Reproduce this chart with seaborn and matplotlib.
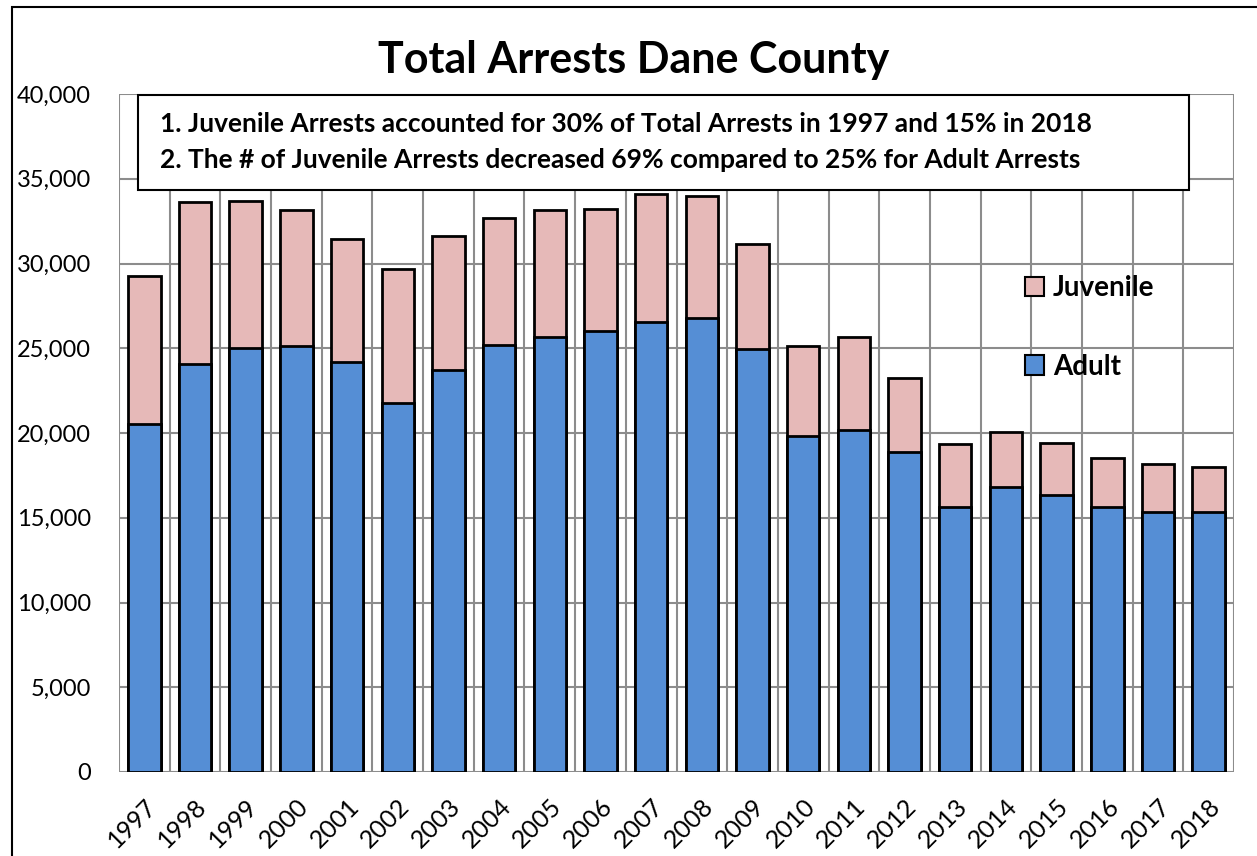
import matplotlib
matplotlib.use("Agg")
import matplotlib.pyplot as plt
import matplotlib.transforms as mtransforms
import seaborn as sns
import pandas as pd
import numpy as np
from matplotlib.patches import Patch, Rectangle

years = [str(y) for y in range(1997, 2019)]
adult = [20510, 24080, 25020, 25140, 24190, 21750, 23690, 25190, 25660, 26000, 26550,
         26810, 24980, 19820, 20190, 18850, 15660, 16820, 16370, 15630, 15310, 15310]
juvenile = [8730, 9550, 8670, 8000, 7280, 7910, 7940, 7480, 7520, 7190, 7570,
            7150, 6160, 5300, 5460, 4410, 3710, 3260, 3060, 2880, 2880, 2710]

title = "Total Arrests Dane County"
note_lines = ["1. Juvenile Arrests accounted for 30% of Total Arrests in 1997 and 15% in 2018",
              "2. The # of Juvenile Arrests decreased 69% compared to 25% for Adult Arrests"]

ADULT_C = "#558ED5"
JUV_C = "#E6B9B8"
GRID_C = "#8C8C8C"

sns.set_theme(style="white")
plt.rcParams['font.family'] = ['Lato', 'DejaVu Sans']
plt.rcParams['text.color'] = 'black'
plt.rcParams['xtick.color'] = 'black'
plt.rcParams['ytick.color'] = 'black'

df = pd.DataFrame({"year": years, "adult": adult, "juvenile": juvenile})
df["total"] = df["adult"] + df["juvenile"]

fig = plt.figure(figsize=(12.57, 8.56), dpi=100)
ax = fig.add_axes([119/1257, 1 - 772/856, (1234 - 119)/1257, (772 - 94)/856])

sns.barplot(data=df, x="year", y="total", color=JUV_C, saturation=1, width=0.64,
            edgecolor="black", linewidth=2, ax=ax, zorder=3)
sns.barplot(data=df, x="year", y="adult", color=ADULT_C, saturation=1, width=0.64,
            edgecolor="black", linewidth=2, ax=ax, zorder=4)

ax.set_ylim(0, 40000)
ax.set_xlim(-0.5, len(years) - 0.5)
ax.set_yticks(np.arange(0, 40001, 5000))
ax.set_yticklabels([f"{v:,}" for v in range(0, 40001, 5000)], fontsize=17, color="black")
ax.set_xticks(range(len(years)))
ax.set_xticklabels(years, rotation=45, ha="right", rotation_mode="anchor", fontsize=18, color="black")
offset = mtransforms.ScaledTranslation(-3/100, 0, fig.dpi_scale_trans)
for lbl in ax.get_xticklabels():
    lbl.set_transform(lbl.get_transform() + offset)
ax.set_xticks(np.arange(-0.5, len(years), 1.0), minor=True)
ax.tick_params(axis="x", which="both", length=0, pad=16)
ax.tick_params(axis="y", length=0, pad=20)
ax.grid(axis="y", which="major", color=GRID_C, linewidth=1.5, zorder=0)
ax.grid(axis="x", which="minor", color=GRID_C, linewidth=1.5, zorder=0)
ax.grid(axis="x", which="major", visible=False)
ax.set_axisbelow(True)
for s in ax.spines.values():
    s.set_visible(False)
ax.set_xlabel("")
ax.set_ylabel("")

fig.text(634/1257, 1 - 60/856, title, ha="center", va="center", fontsize=31, fontweight="bold")

# note box
box = Rectangle((138/1257, 1 - 190/856), (1189 - 138)/1257, (190 - 95)/856, transform=fig.transFigure,
                facecolor="white", edgecolor="black", linewidth=1.5, zorder=5)
fig.patches.append(box)
fig.text(160/1257, 1 - 124/856, note_lines[0], ha="left", va="center", fontsize=19, fontweight="bold", zorder=6)
fig.text(160/1257, 1 - 160/856, note_lines[1], ha="left", va="center", fontsize=19, fontweight="bold", zorder=6)

# outer frame
frame = Rectangle((12/1257, -0.1), 1.2, 1.1 - 7/856, transform=fig.transFigure,
                  facecolor="none", edgecolor="black", linewidth=1.5)
fig.patches.append(frame)

handles = [Patch(facecolor=JUV_C, edgecolor="black", linewidth=1.5, label="Juvenile"),
           Patch(facecolor=ADULT_C, edgecolor="black", linewidth=1.5, label="Adult")]
leg = ax.legend(handles=handles, loc="upper left", bbox_to_anchor=(1000/1257, 1 - 250/856),
                bbox_transform=fig.transFigure, frameon=False, prop={"weight": "bold", "size": 20},
                handlelength=0.7, handleheight=0.7, handletextpad=0.3, labelspacing=1.9)

fig.savefig("out.png", dpi=100)
